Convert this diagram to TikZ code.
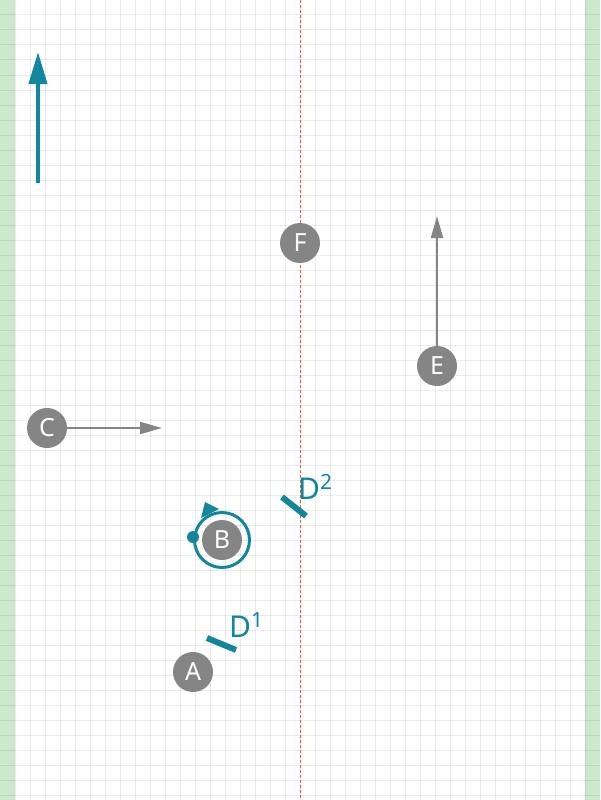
\documentclass[tikz,border=0pt]{standalone}
\usepackage{fontspec}
\setmainfont{Noto Sans}
\usetikzlibrary{arrows.meta}

\definecolor{markteal}{HTML}{11869C}
\definecolor{markgray}{HTML}{858585}
\definecolor{stripgreen}{HTML}{CDE9CB}
\definecolor{midred}{HTML}{F15A24}

\tikzset{
  gridline/.style={draw=black, opacity=0.08, line width=1pt},
  point/.style={circle, fill=markgray, text=white, minimum size=40pt, inner sep=0pt,
    font=\fontsize{25}{25}\selectfont},
  grayarrow/.style={draw=markgray, line width=2pt, -{Triangle[length=22pt,width=12pt]}},
  northarrow/.style={draw=markteal, line width=4pt, -{Triangle[length=32pt,width=18pt]}},
  dbar/.style={draw=markteal, line width=6pt},
  dlabel/.style={text=markteal, inner sep=0pt, anchor=base west,
    font=\fontsize{30}{30}\selectfont},
}

\begin{document}
\begin{tikzpicture}[x=1pt,y=-1pt]
        \useasboundingbox (0,0) rectangle (600,800);

        % side strips and grid
        \fill [stripgreen] (0,0) rectangle (15,800);
        \fill [stripgreen] (585,0) rectangle (600,800);
        \foreach \i in {1,...,39}
            \draw [gridline] (15*\i,0) -- (15*\i,800);
        \foreach \j in {1,...,53}
            \draw [gridline] (0,15*\j) -- (600,15*\j);

        % centre line
        \draw [draw=midred, line width=1pt, dash pattern=on 3pt off 2pt] (300,0) -- (300,800);

        % north arrow
        \coordinate (north tail) at (38,183);
        \coordinate (north tip) at (38,52);
        \draw [northarrow] (north tail) -- (north tip);

        % points
        \node [point] (F) at (300,243) {F};
        \node [point] (E) at (437,366) {E};
        \node [point] (C) at (47,428) {C};
        \node [point] (B) at (222,540) {B};
        \node [point] (A) at (193,672) {A};

        \coordinate (C tip) at (162,428);
        \coordinate (E tip) at (437,216);
        \draw [grayarrow] (C) -- (C tip);
        \draw [grayarrow] (E) -- (E tip);

        % rotation at B
        \draw [draw=markteal, line width=3pt] (B) circle [radius=27.5pt];
        \fill [markteal] (193,537) circle [radius=6pt];
        \fill [markteal] (205,502) -- (219,509) -- (201,518) -- cycle;

        % D marks
        \draw [dbar] (207,638) -- (236,650);
        \draw [dbar] (282,497) -- (306,516);
        \node [dlabel] (D1) at (229,637) {D\textsuperscript{1}};
        \node [dlabel] (D2) at (298,499) {D\textsuperscript{2}};
    \end{tikzpicture}
\end{document}
